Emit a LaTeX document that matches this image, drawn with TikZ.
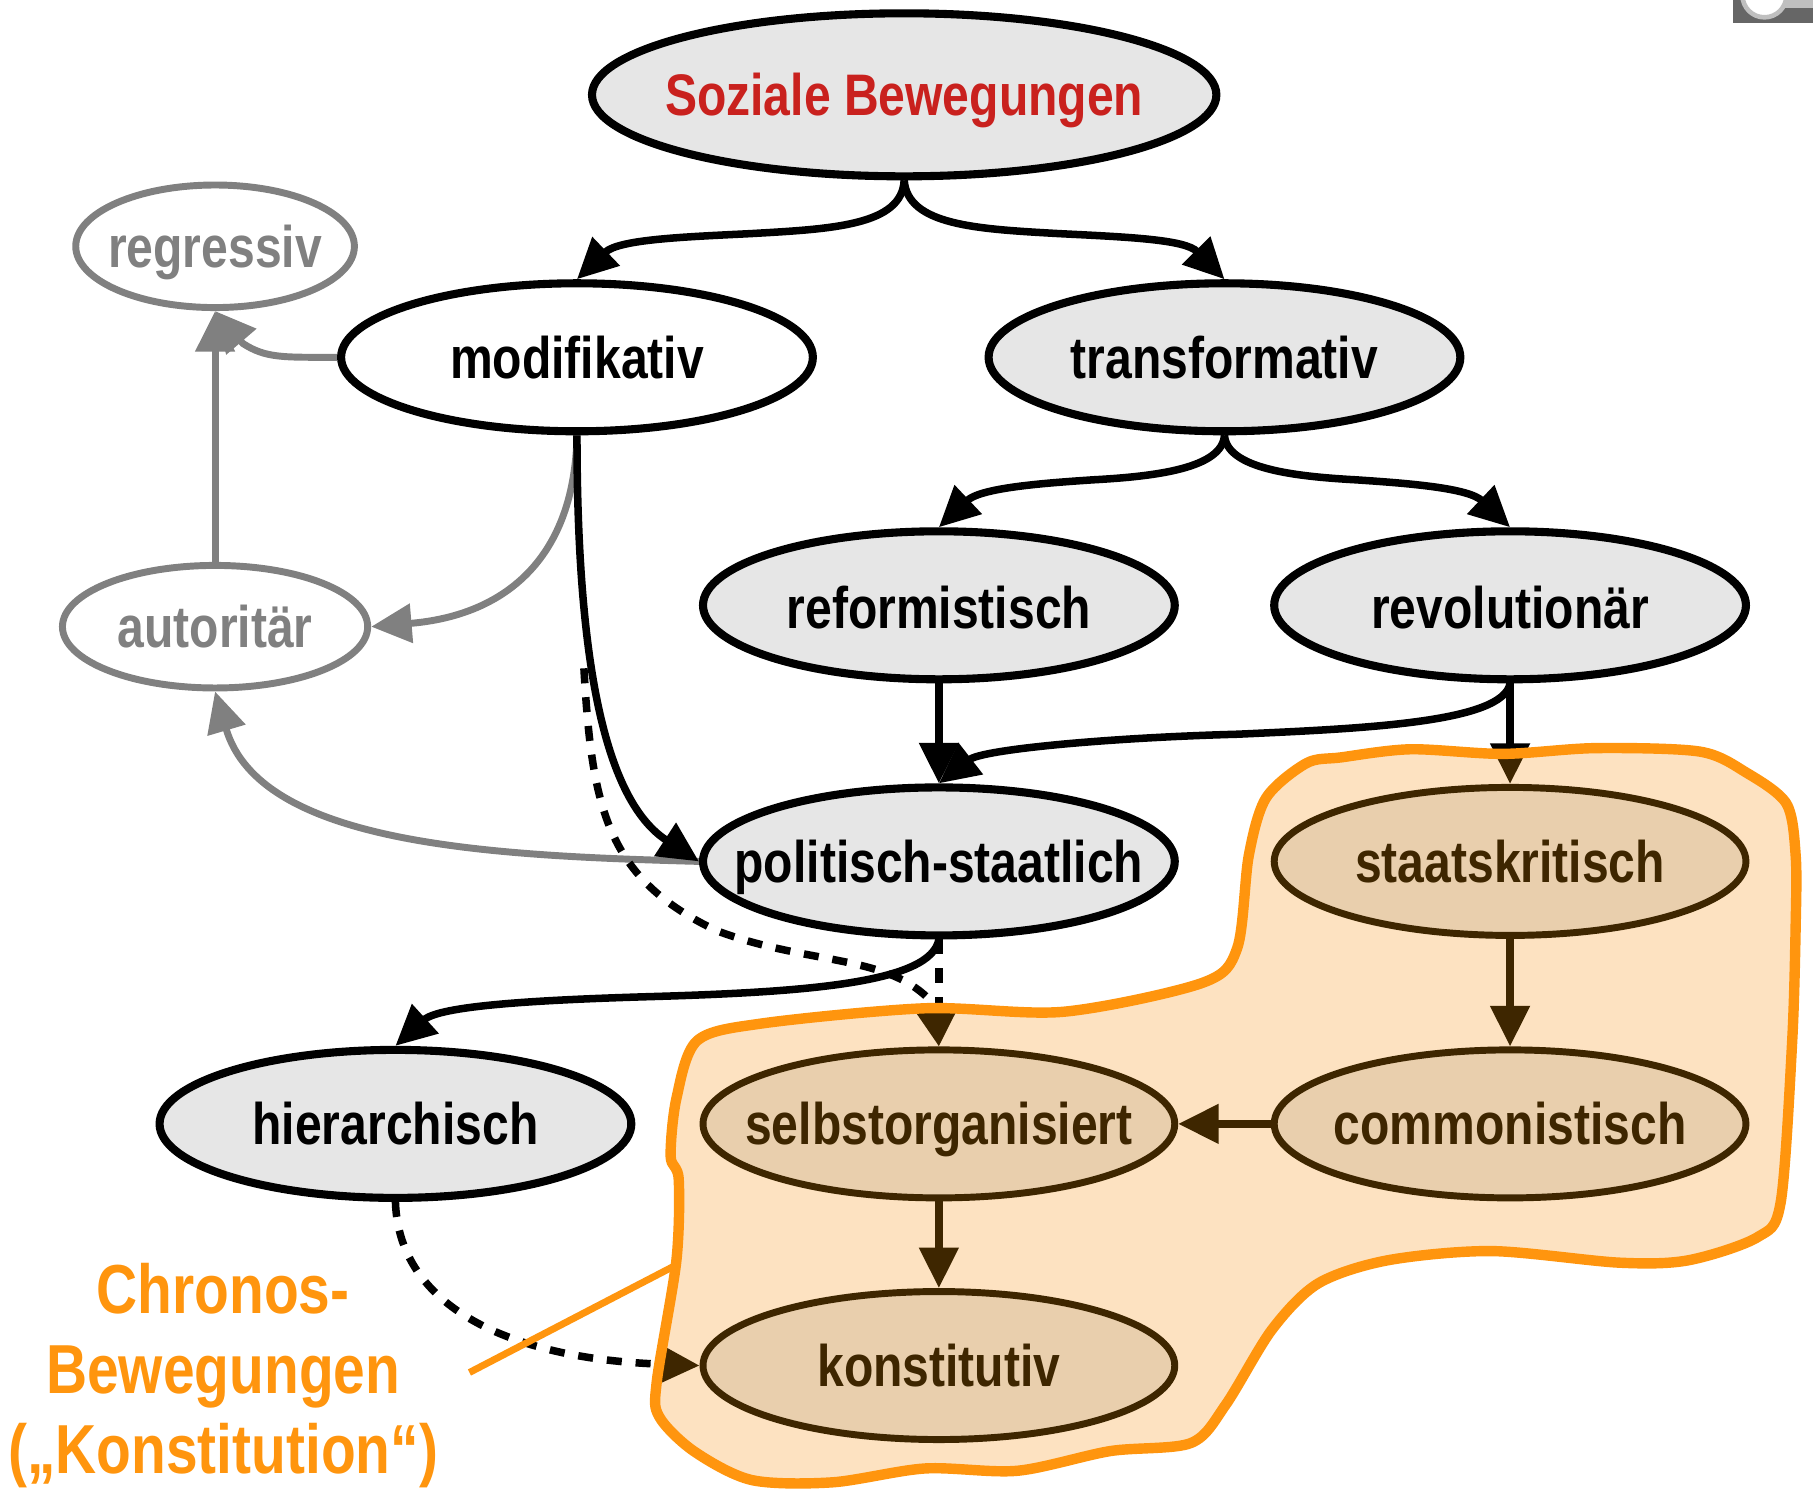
\documentclass[tikz,border=0pt]{standalone}
\usepackage{fontspec}
\setmainfont{Liberation Sans}[FakeStretch=0.82]
\usetikzlibrary{shapes.geometric,arrows.meta}
\definecolor{grayfill}{HTML}{E6E6E6}
\definecolor{softred}{HTML}{C9211E}
\definecolor{midgray}{HTML}{808080}
\definecolor{deepbrown}{HTML}{3E2600}
\definecolor{tanfill}{HTML}{E9CFAD}
\definecolor{blobfill}{HTML}{FDE2C1}
\definecolor{blobline}{HTML}{FF950E}
\pgfdeclarelayer{backlayer}
\pgfdeclarelayer{bloblayer}
\pgfsetlayers{backlayer,bloblayer,main}
\newcommand{\blobpath}{plot[smooth cycle,tension=.5] coordinates {(1160,655) (1220,648) (1300,652) (1380,647) (1470,650) (1510,668) (1545,695) (1553,740) (1553,800) (1550,900) (1540,1040) (1520,1070) (1460,1090) (1400,1092) (1290,1082) (1200,1090) (1140,1110) (1100,1150) (1060,1215) (1030,1248) (960,1255) (880,1272) (800,1270) (720,1282) (650,1280) (600,1255) (570,1225) (568,1195) (585,1090) (587,1020) (580,1000) (585,950) (603,900) (660,885) (800,872) (920,875) (1040,850) (1070,820) (1080,740) (1095,690) (1130,660)}}
\newcommand{\hotedges}{%
  \draw[solidconn,draw=\hotcol] (rev.south) -- (sta.north);
  \draw[conn,draw=\hotcol] (pol.south) -- (sel.north);
  \draw[conn,draw=\hotcol] (dashstart) .. controls (512,700) and (525,760) .. (620,805) .. controls (700,835) and (770,825) .. (807,868) -- (sel.north);
  \draw[conn,draw=\hotcol] (hie.south) .. controls (345,1130) and (440,1175) .. (kon.west);
}
\newcommand{\fs}[1]{\fontsize{#1}{#1}\selectfont\bfseries}
\tikzset{
  x=1pt,y=-1pt,
  conn/.style={line width=6.5pt,line join=miter,-{Triangle[length=35pt,width=33pt]},dash pattern=on 13pt off 12pt},
  solidconn/.style={line width=6.5pt,line join=miter,-{Triangle[length=35pt,width=33pt]}},
  grayconn/.style={solidconn,draw=midgray,line width=6pt},
  oval/.style={ellipse,draw=black,fill=grayfill,line width=7pt,inner sep=0pt,minimum width=408pt,minimum height=128pt,text height=36pt,text depth=0pt,font=\fs{50.7}},
  whiteoval/.style={oval,fill=white},
  lowtext/.style={text height=40pt},
  grayoval/.style={oval,draw=midgray,fill=white,text=midgray,line width=6pt,minimum height=106pt},
  tanoval/.style={oval,draw=deepbrown,fill=tanfill,text=deepbrown,line width=6pt},
  labeltext/.style={text=blobline,font=\fs{60},inner sep=0pt,anchor=base},
}
\begin{document}
\begin{tikzpicture}
\useasboundingbox (0,0) rectangle (1568,1287.8);
% nodes
\node[oval,minimum width=540pt,minimum height=141pt,text=softred] (soz) at (782,82) {\makebox[0pt]{Soziale Bewegungen}};
\node[grayoval,minimum width=241pt] (reg) at (186,213) {\makebox[0pt]{regressiv}};
\node[whiteoval] (mod) at (499,309) {\makebox[0pt]{modifikativ}};
\node[oval] (tra) at (1059,309) {\makebox[0pt]{transformativ}};
\node[oval,lowtext] (ref) at (812,523.5) {\makebox[0pt]{reformistisch}};
\node[oval,lowtext] (rev) at (1306,523.5) {\makebox[0pt]{revolutionär}};
\node[grayoval,minimum width=264pt] (aut) at (186,542) {\makebox[0pt]{autoritär}};
\node[oval] (pol) at (812,745) {\makebox[0pt]{politisch-staatlich}};
\node[tanoval] (sta) at (1306,745) {\makebox[0pt]{staatskritisch}};
\node[oval] (hie) at (342,972) {\makebox[0pt]{hierarchisch}};
\node[tanoval] (sel) at (812,972) {\makebox[0pt]{selbstorganisiert}};
\node[tanoval] (com) at (1306,972) {\makebox[0pt]{commonistisch}};
\node[tanoval] (kon) at (812,1181) {\makebox[0pt]{konstitutiv}};
\node[labeltext] (lab1) at (193,1136) {Chronos-};
\node[labeltext] (lab2) at (193,1205) {Bewegungen};
\node[labeltext] (lab3) at (193,1274) {(„Konstitution“)};
\coordinate (dashstart) at (505,578);
\coordinate (lineA) at (406,1187);
\coordinate (lineB) at (583,1095);
% corner fragment
\begin{scope}
\clip (1499,0) rectangle (1568,20);
\fill[black!60] (1499,0) rectangle (1568,20);
\fill[black!25] (1544,0) rectangle (1568,7);
\draw[black!25,line width=4pt,fill=white] (1526,-4) circle (19pt);
\end{scope}
\begin{pgfonlayer}{backlayer}
\draw[grayconn] (mod.west) .. controls (245,309) and (230,310) .. (210,297) -- (reg.south);
\draw[grayconn] (aut.north) -- (reg.south);
\draw[grayconn] (mod.south) .. controls (497,480) and (440,532) .. (aut.east);
\draw[grayconn] (pol.west) .. controls (420,740) and (225,730) .. (aut.south);
\draw[solidconn] (soz.south) .. controls (780,195) and (720,198) .. (650,202) .. controls (590,205) and (535,207) .. (mod.north);
\draw[solidconn] (soz.south) .. controls (785,195) and (845,198) .. (915,202) .. controls (975,205) and (1025,207) .. (tra.north);
\draw[solidconn] (tra.south) .. controls (1057,405) and (1000,412) .. (945,415) .. controls (900,418) and (848,422) .. (ref.north);
\draw[solidconn] (tra.south) .. controls (1061,405) and (1118,412) .. (1173,415) .. controls (1218,418) and (1270,422) .. (rev.north);
\draw[solidconn] (ref.south) -- (pol.north);
\draw[solidconn] (rev.south) .. controls (1300,625) and (1180,630) .. (1070,635) .. controls (960,638) and (850,648) .. (pol.north);
\draw[solidconn] (mod.south) .. controls (499,560) and (520,690) .. (pol.west);
\draw[solidconn] (pol.south) .. controls (805,850) and (700,858) .. (560,862) .. controls (460,865) and (380,870) .. (hie.north);
\def\hotcol{black}
\hotedges
\end{pgfonlayer}
\begin{pgfonlayer}{bloblayer}
\fill[blobfill] \blobpath;
\begin{scope}
\clip \blobpath;
\def\hotcol{deepbrown}
\hotedges
\end{scope}
\draw[blobline,line width=9pt,line join=round] \blobpath;
\draw[blobline,line width=6pt] (lineA) -- (lineB);
\draw[solidconn,deepbrown] (sta.south) -- (com.north);
\draw[solidconn,deepbrown] (com.west) -- (sel.east);
\draw[solidconn,deepbrown] (sel.south) -- (kon.north);
\end{pgfonlayer}
\end{tikzpicture}
\end{document}
